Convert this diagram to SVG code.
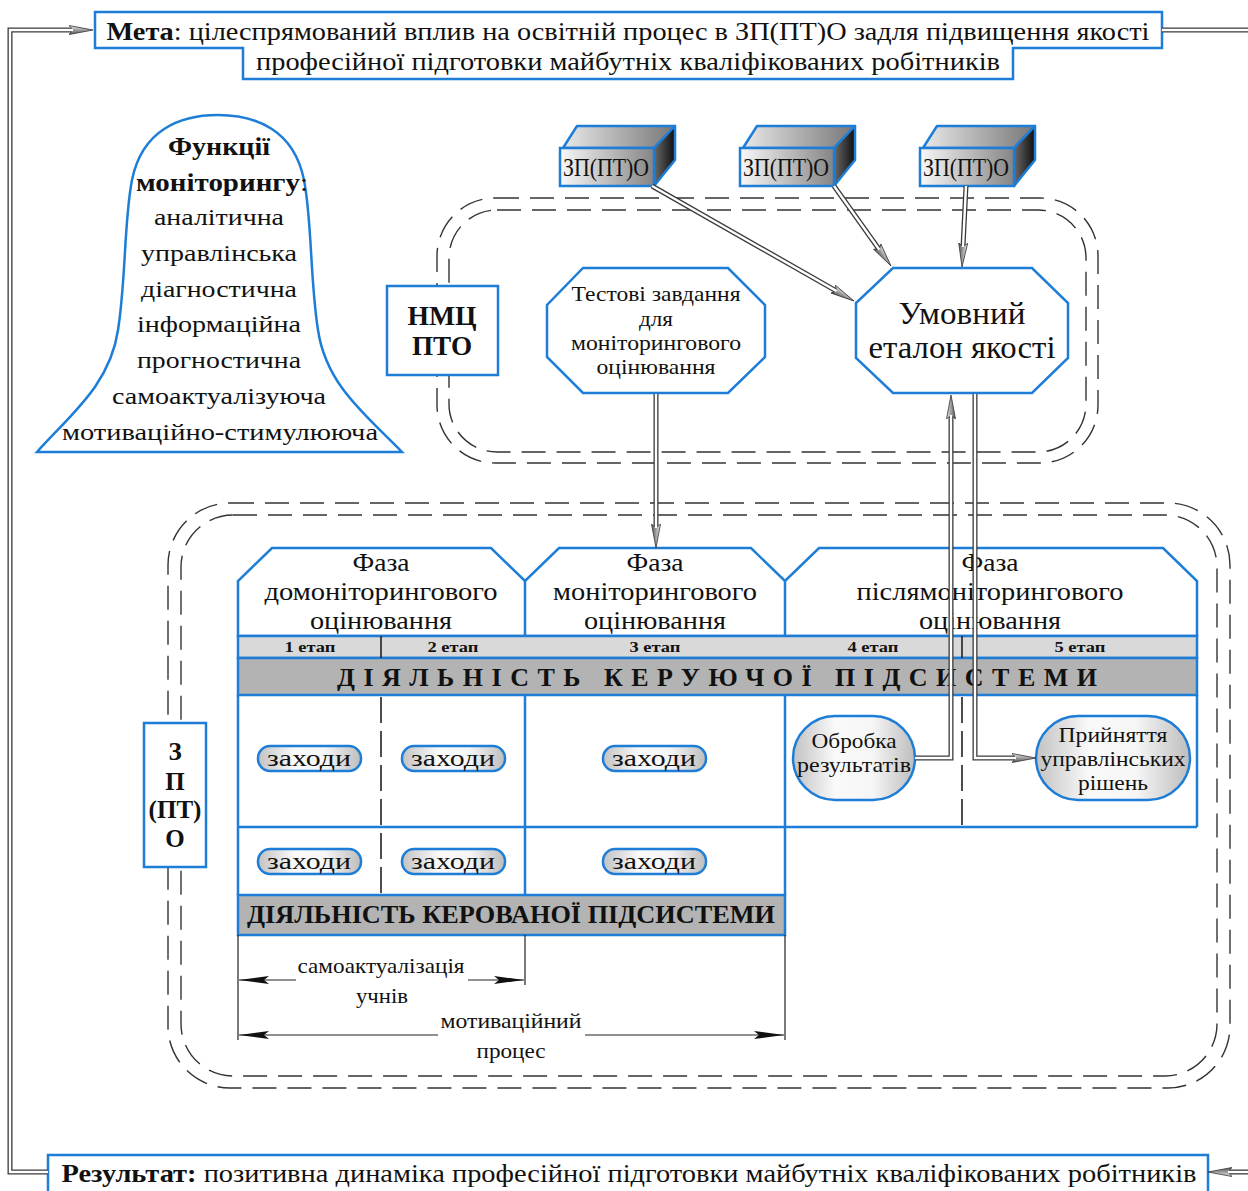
<svg xmlns="http://www.w3.org/2000/svg" width="1248" height="1191" viewBox="0 0 1248 1191">
<style>
.b{fill:#fff;stroke:#1e7dd7;stroke-width:2.5}
.bn{fill:none;stroke:#1e7dd7;stroke-width:2.5}
.t{font-family:"Liberation Serif","Times New Roman",serif;fill:#111;text-anchor:middle}
.bold{font-weight:bold}
.dash{fill:none;stroke:#333;stroke-width:1.4;stroke-dasharray:24 11}
.dlo{fill:none;stroke:#3a3a3a;stroke-width:5}
.dli{fill:none;stroke:#fff;stroke-width:2.4}
.thin{fill:none;stroke:#222;stroke-width:1.2}
.div{fill:none;stroke:#222;stroke-width:1.6}
.divd{fill:none;stroke:#222;stroke-width:1.6;stroke-dasharray:26 8}
.pill{fill:url(#pg);stroke:#1e7dd7;stroke-width:2.5}
</style>
<defs>
<linearGradient id="pg" x1="0" y1="0" x2="1" y2="0">
<stop offset="0" stop-color="#c2c2c2"/><stop offset="0.35" stop-color="#fafafa"/><stop offset="0.65" stop-color="#f6f6f6"/><stop offset="1" stop-color="#bdbdbd"/>
</linearGradient>
<linearGradient id="cf" x1="0" y1="0" x2="1" y2="0">
<stop offset="0" stop-color="#f8f8f8"/><stop offset="1" stop-color="#858585"/>
</linearGradient>
<linearGradient id="ct" x1="0" y1="0" x2="1" y2="0">
<stop offset="0" stop-color="#e8e8e8"/><stop offset="1" stop-color="#777"/>
</linearGradient>
<linearGradient id="cr" x1="0" y1="0" x2="1" y2="0">
<stop offset="0" stop-color="#6a6a6a"/><stop offset="1" stop-color="#0e0e0e"/>
</linearGradient>
<linearGradient id="ag" x1="0" y1="0" x2="0" y2="1">
<stop offset="0" stop-color="#e8e8e8"/><stop offset="1" stop-color="#555"/>
</linearGradient>
<marker id="ah" markerUnits="userSpaceOnUse" viewBox="0 0 24 12" markerWidth="24" markerHeight="12" refX="4" refY="6" orient="auto">
<path d="M0,1.5 L24,6 L0,10.5 L4,6 Z" fill="url(#ag)" stroke="#333" stroke-width="0.8"/>
</marker>
<marker id="dh" markerUnits="userSpaceOnUse" viewBox="0 0 30 10" markerWidth="30" markerHeight="10" refX="30" refY="5" orient="auto">
<path d="M0,1 L30,5 L0,9 L5,5 Z" fill="#111"/>
</marker>
</defs>
<rect width="1248" height="1191" fill="#fff"/>

<!-- dashed containers -->
<g id="container-nmc">
<rect class="dash" x="437" y="198" width="661" height="265" rx="58"/>
<rect class="dash" x="449" y="210" width="637" height="242" rx="48"/>
</g>
<g id="container-zpto">
<rect class="dash" x="168" y="503" width="1062" height="585" rx="62"/>
<rect class="dash" x="181" y="515" width="1036" height="561" rx="52"/>
</g>

<!-- goal -->
<g id="goal">
<path class="b" d="M95,12 H1162 V48 H1013 V79 H243 V48 H95 Z"/>
<text class="t" x="628" y="40" font-size="25" textLength="1043" lengthAdjust="spacingAndGlyphs"><tspan class="bold">Мета</tspan>: цілеспрямований вплив на освітній процес в ЗП(ПТ)О задля підвищення якості</text>
<text class="t" x="628" y="70" font-size="25" textLength="744" lengthAdjust="spacingAndGlyphs">професійної підготовки майбутніх кваліфікованих робітників</text>
</g>

<!-- result -->
<g id="result">
<rect class="b" x="48" y="1155" width="1160" height="50"/>
<text class="t" x="629" y="1182" font-size="25" textLength="1135" lengthAdjust="spacingAndGlyphs"><tspan class="bold">Результат:</tspan> позитивна динаміка професійної підготовки майбутніх кваліфікованих робітників</text>
</g>

<!-- bell -->
<g id="functions">
<path class="b" d="M37,452 C70,415 110,385 118,330 C126,280 124,220 132,180 C142,130 180,115 218,115 C256,115 294,130 304,180 C312,220 310,280 318,330 C326,385 366,415 402,452 Z"/>
<text class="t bold" x="219" y="155" font-size="25" textLength="102" lengthAdjust="spacingAndGlyphs">Функції</text>
<text class="t" x="222" y="191" font-size="25" textLength="172" lengthAdjust="spacingAndGlyphs"><tspan class="bold">моніторингу</tspan>:</text>
<text class="t" x="219" y="225" font-size="24" textLength="130" lengthAdjust="spacingAndGlyphs">аналітична</text>
<text class="t" x="219" y="261" font-size="24" textLength="156" lengthAdjust="spacingAndGlyphs">управлінська</text>
<text class="t" x="219" y="297" font-size="24" textLength="156" lengthAdjust="spacingAndGlyphs">діагностична</text>
<text class="t" x="219" y="332" font-size="24" textLength="164" lengthAdjust="spacingAndGlyphs">інформаційна</text>
<text class="t" x="219" y="368" font-size="24" textLength="164" lengthAdjust="spacingAndGlyphs">прогностична</text>
<text class="t" x="219" y="404" font-size="24" textLength="214" lengthAdjust="spacingAndGlyphs">самоактуалізуюча</text>
<text class="t" x="220" y="440" font-size="24" textLength="316" lengthAdjust="spacingAndGlyphs">мотиваційно-стимулююча</text>
</g>

<!-- NMC PTO -->
<g id="nmc">
<rect class="b" x="387" y="286" width="111" height="89"/>
<text class="t bold" x="442" y="325" font-size="27" textLength="69" lengthAdjust="spacingAndGlyphs">НМЦ</text>
<text class="t bold" x="442" y="355" font-size="27" textLength="60" lengthAdjust="spacingAndGlyphs">ПТО</text>
</g>

<!-- cubes -->
<g id="cube1">
<path d="M563,148 L577,126 L675,126 L654,148 Z" fill="url(#ct)" stroke="#1e7dd7" stroke-width="2.5" stroke-linejoin="round"/>
<path d="M654,148 L675,126 L675,160 L654,186 Z" fill="url(#cr)" stroke="#1e7dd7" stroke-width="2.5" stroke-linejoin="round"/>
<rect x="560" y="148" width="94" height="38" fill="url(#cf)" stroke="#1e7dd7" stroke-width="2.5"/>
<text class="t" x="606" y="176" font-size="25" textLength="86" lengthAdjust="spacingAndGlyphs">ЗП(ПТ)О</text>
</g>
<g id="cube2">
<path d="M743,148 L757,126 L855,126 L834,148 Z" fill="url(#ct)" stroke="#1e7dd7" stroke-width="2.5" stroke-linejoin="round"/>
<path d="M834,148 L855,126 L855,160 L834,186 Z" fill="url(#cr)" stroke="#1e7dd7" stroke-width="2.5" stroke-linejoin="round"/>
<rect x="740" y="148" width="94" height="38" fill="url(#cf)" stroke="#1e7dd7" stroke-width="2.5"/>
<text class="t" x="786" y="176" font-size="25" textLength="86" lengthAdjust="spacingAndGlyphs">ЗП(ПТ)О</text>
</g>
<g id="cube3">
<path d="M923,148 L937,126 L1035,126 L1014,148 Z" fill="url(#ct)" stroke="#1e7dd7" stroke-width="2.5" stroke-linejoin="round"/>
<path d="M1014,148 L1035,126 L1035,160 L1014,186 Z" fill="url(#cr)" stroke="#1e7dd7" stroke-width="2.5" stroke-linejoin="round"/>
<rect x="920" y="148" width="94" height="38" fill="url(#cf)" stroke="#1e7dd7" stroke-width="2.5"/>
<text class="t" x="966" y="176" font-size="25" textLength="86" lengthAdjust="spacingAndGlyphs">ЗП(ПТ)О</text>
</g>

<!-- test tasks -->
<g id="tests">
<path class="b" d="M583,268 H728 L765,305 V357 L728,393 H583 L547,357 V305 Z"/>
<text class="t" x="656" y="301" font-size="21" textLength="169" lengthAdjust="spacingAndGlyphs">Тестові завдання</text>
<text class="t" x="656" y="326" font-size="21" textLength="34" lengthAdjust="spacingAndGlyphs">для</text>
<text class="t" x="656" y="350" font-size="21" textLength="170" lengthAdjust="spacingAndGlyphs">моніторингового</text>
<text class="t" x="656" y="374" font-size="21" textLength="119" lengthAdjust="spacingAndGlyphs">оцінювання</text>
</g>

<!-- standard -->
<g id="standard">
<path class="b" d="M893,268 H1032 L1068,303 V358 L1032,393 H893 L856,358 V303 Z"/>
<text class="t" x="962" y="324" font-size="31" textLength="127" lengthAdjust="spacingAndGlyphs">Умовний</text>
<text class="t" x="962" y="358" font-size="31" textLength="187" lengthAdjust="spacingAndGlyphs">еталон якості</text>
</g>

<!-- ZP(PT)O side box -->
<g id="zpto-box">
<rect class="b" x="144" y="723" width="62" height="144"/>
<text class="t bold" x="175" y="760" font-size="25">З</text>
<text class="t bold" x="175" y="790" font-size="25">П</text>
<text class="t bold" x="175" y="818" font-size="25">(ПТ)</text>
<text class="t bold" x="175" y="847" font-size="25">О</text>
</g>

<!-- phase table -->
<g id="phase-table">
<rect x="238" y="695" width="959" height="132" fill="#fff"/>
<rect x="238" y="827" width="547" height="68" fill="#fff"/>
<path class="b" d="M238,636 V581 L272,548 H491 L525,581 L559,548 H751 L785,581 L819,548 H1163 L1197,581 V636 Z"/>
<path class="bn" d="M525,581 V636 M785,581 V636"/>
<rect x="238" y="636" width="959" height="22" fill="#d9d9d9" stroke="#1e7dd7" stroke-width="2.5"/>
<rect x="238" y="658" width="959" height="37" fill="#b3b3b3" stroke="#1e7dd7" stroke-width="2.5"/>
<path class="bn" d="M238,695 V895 M238,827 H1197 M1197,695 V827 M525,695 V895 M785,695 V895"/>
<rect x="238" y="895" width="547" height="40" fill="#b3b3b3" stroke="#1e7dd7" stroke-width="2.5"/>
<path class="div" d="M381,636 V658 M962,636 V658"/>
<path class="divd" d="M381,697 V895 M962,697 V827"/>
<text class="t" x="381" y="571" font-size="25" textLength="57" lengthAdjust="spacingAndGlyphs">Фаза</text>
<text class="t" x="381" y="600" font-size="25" textLength="233" lengthAdjust="spacingAndGlyphs">домоніторингового</text>
<text class="t" x="381" y="629" font-size="25" textLength="142" lengthAdjust="spacingAndGlyphs">оцінювання</text>
<text class="t" x="655" y="571" font-size="25" textLength="57" lengthAdjust="spacingAndGlyphs">Фаза</text>
<text class="t" x="655" y="600" font-size="25" textLength="204" lengthAdjust="spacingAndGlyphs">моніторингового</text>
<text class="t" x="655" y="629" font-size="25" textLength="142" lengthAdjust="spacingAndGlyphs">оцінювання</text>
<text class="t" x="990" y="571" font-size="25" textLength="57" lengthAdjust="spacingAndGlyphs">Фаза</text>
<text class="t" x="990" y="600" font-size="25" textLength="267" lengthAdjust="spacingAndGlyphs">післямоніторингового</text>
<text class="t" x="990" y="629" font-size="25" textLength="142" lengthAdjust="spacingAndGlyphs">оцінювання</text>
<text class="t bold" x="310" y="652" font-size="15" textLength="51" lengthAdjust="spacingAndGlyphs">1 етап</text>
<text class="t bold" x="453" y="652" font-size="15" textLength="51" lengthAdjust="spacingAndGlyphs">2 етап</text>
<text class="t bold" x="655" y="652" font-size="15" textLength="51" lengthAdjust="spacingAndGlyphs">3 етап</text>
<text class="t bold" x="873" y="652" font-size="15" textLength="51" lengthAdjust="spacingAndGlyphs">4 етап</text>
<text class="t bold" x="1080" y="652" font-size="15" textLength="51" lengthAdjust="spacingAndGlyphs">5 етап</text>
<text class="t bold" x="717" y="686" font-size="26" textLength="760" lengthAdjust="spacing">ДІЯЛЬНІСТЬ КЕРУЮЧОЇ ПІДСИСТЕМИ</text>
<text class="t bold" x="511" y="923" font-size="25" textLength="528" lengthAdjust="spacingAndGlyphs">ДІЯЛЬНІСТЬ КЕРОВАНОЇ ПІДСИСТЕМИ</text>
</g>

<!-- measures -->
<g id="measures">
<rect class="pill" x="258" y="746" width="103" height="25" rx="12"/>
<text class="t" x="309" y="766" font-size="24" textLength="84" lengthAdjust="spacingAndGlyphs">заходи</text>
<rect class="pill" x="402" y="746" width="103" height="25" rx="12"/>
<text class="t" x="453" y="766" font-size="24" textLength="84" lengthAdjust="spacingAndGlyphs">заходи</text>
<rect class="pill" x="603" y="746" width="103" height="25" rx="12"/>
<text class="t" x="654" y="766" font-size="24" textLength="84" lengthAdjust="spacingAndGlyphs">заходи</text>
<rect class="pill" x="258" y="849" width="103" height="25" rx="12"/>
<text class="t" x="309" y="869" font-size="24" textLength="84" lengthAdjust="spacingAndGlyphs">заходи</text>
<rect class="pill" x="402" y="849" width="103" height="25" rx="12"/>
<text class="t" x="453" y="869" font-size="24" textLength="84" lengthAdjust="spacingAndGlyphs">заходи</text>
<rect class="pill" x="603" y="849" width="103" height="25" rx="12"/>
<text class="t" x="654" y="869" font-size="24" textLength="84" lengthAdjust="spacingAndGlyphs">заходи</text>
</g>

<g id="processing">
<rect class="pill" x="793" y="716" width="122" height="84" rx="42"/>
<text class="t" x="854" y="748" font-size="22" textLength="85" lengthAdjust="spacingAndGlyphs">Обробка</text>
<text class="t" x="854" y="772" font-size="22" textLength="114" lengthAdjust="spacingAndGlyphs">результатів</text>
</g>
<g id="decisions">
<rect class="pill" x="1036" y="716" width="154" height="84" rx="42"/>
<text class="t" x="1113" y="742" font-size="22" textLength="109" lengthAdjust="spacingAndGlyphs">Прийняття</text>
<text class="t" x="1113" y="766" font-size="22" textLength="145" lengthAdjust="spacingAndGlyphs">управлінських</text>
<text class="t" x="1113" y="790" font-size="22" textLength="70" lengthAdjust="spacingAndGlyphs">рішень</text>
</g>

<!-- connectors -->
<g id="connectors">
<path class="dlo" d="M48,1172 H10 V30 H73" marker-end="url(#ah)"/>
<path class="dli" d="M48,1172 H10 V30 H73"/>
<path class="dlo" d="M1162,30 H1250"/>
<path class="dli" d="M1162,30 H1250"/>
<path class="dlo" d="M1250,1172 H1228" marker-end="url(#ah)"/>
<path class="dli" d="M1250,1172 H1228"/>

<path class="dlo" d="M652,186 L836.6,291.1" marker-end="url(#ah)"/>
<path class="dli" d="M652,186 L836.6,291.1"/>
<path class="dlo" d="M834,186 L879.4,249.7" marker-end="url(#ah)"/>
<path class="dli" d="M834,186 L879.4,249.7"/>
<path class="dlo" d="M966,186 L963,247" marker-end="url(#ah)"/>
<path class="dli" d="M966,186 L963,247"/>

<path class="dlo" d="M656,394 V528" marker-end="url(#ah)"/>
<path class="dli" d="M656,394 V528"/>

<path class="dlo" d="M915,758 H951 V415" marker-end="url(#ah)"/>
<path class="dli" d="M915,758 H951 V415"/>
<path class="dlo" d="M975,394 V758 H1016" marker-end="url(#ah)"/>
<path class="dli" d="M975,394 V758 H1016"/>

<path class="thin" d="M238,935 V1040 M525,935 V985 M785,935 V1040"/>
<path class="thin" d="M296,980 H239" marker-end="url(#dh)"/>
<path class="thin" d="M468,980 H524" marker-end="url(#dh)"/>
<path class="thin" d="M438,1035 H239" marker-end="url(#dh)"/>
<path class="thin" d="M585,1035 H784" marker-end="url(#dh)"/>
</g>
<g id="dim-labels">
<text class="t" x="381" y="973" font-size="21" textLength="167" lengthAdjust="spacingAndGlyphs">самоактуалізація</text>
<text class="t" x="382" y="1003" font-size="21" textLength="52" lengthAdjust="spacingAndGlyphs">учнів</text>
<text class="t" x="511" y="1028" font-size="21" textLength="141" lengthAdjust="spacingAndGlyphs">мотиваційний</text>
<text class="t" x="511" y="1058" font-size="21" textLength="69" lengthAdjust="spacingAndGlyphs">процес</text>
</g>
</svg>
